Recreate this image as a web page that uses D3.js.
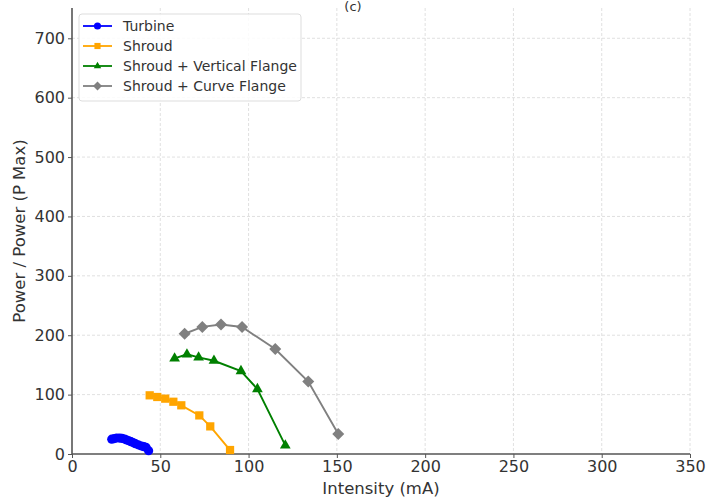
<!DOCTYPE html>
<html><head><meta charset="utf-8">
<script src="https://cdn.jsdelivr.net/npm/d3@7"></script>
<style>body{margin:0;background:#fff;} text{font-family:"DejaVu Sans",sans-serif;}</style>
</head><body>
<svg id="c" width="710" height="500"></svg>
<script>
const seriesNames = ["Turbine","Shroud","Shroud + Vertical Flange","Shroud + Curve Flange"];
const seriesColors = ["#0000ff","#ffa500","#008000","#808080"];
const turbineX = [22.5,24,25.3,27,28.3,29.8,31,32.2,33.4,34.6,35.9,37.5,39.4,40.7,41.9,43.4];
const turbineY = [25,26,27,26.8,26.4,25.2,23.6,22.3,20.8,19.2,17.4,15.5,13.5,12.4,11.2,5.6];
const shroudX = [44,48.3,52.8,57.4,61.9,72.1,78.3,89.5];
const shroudY = [98.8,96,93.2,88,82,65,46.5,6.7];
const vertX = [58.1,65.1,71.7,80.4,95.7,105,120.8];
const vertY = [161,167.8,162.7,157,139.7,109.4,14.6];
const curveX = [63.8,73.8,84.4,96.3,115.1,133.8,150.8];
const curveY = [202.5,214,218,213.8,176.8,122,33.7];
const xTicks = [0,50,100,150,200,250,300,350];
const yTicks = [0,100,200,300,400,500,600,700];

const svg = d3.select("#c");
const L=72, R=690, T=8, B=454;
const x = d3.scaleLinear().domain([0,350]).range([L,R]);
const y = d3.scaleLinear().domain([0,751]).range([B,T]);

// grid
const g = svg.append("g");
g.selectAll(".vx").data(xTicks.slice(1)).join("line")
 .attr("x1",d=>x(d)).attr("x2",d=>x(d)).attr("y1",T).attr("y2",B)
 .attr("stroke","#d8d8d8").attr("stroke-dasharray","3,2").attr("stroke-width",0.8);
g.selectAll(".hy").data(yTicks.slice(1)).join("line")
 .attr("x1",L).attr("x2",R).attr("y1",d=>y(d)).attr("y2",d=>y(d))
 .attr("stroke","#d8d8d8").attr("stroke-dasharray","3,2").attr("stroke-width",0.8);

// axes
const xa = svg.append("g").attr("transform",`translate(0,${B})`)
 .call(d3.axisBottom(x).tickValues(xTicks).tickSize(4).tickPadding(3));
const ya = svg.append("g").attr("transform",`translate(${L},0)`)
 .call(d3.axisLeft(y).tickValues(yTicks).tickSize(4).tickPadding(3));
[xa,ya].forEach(a=>{
  a.select(".domain").attr("stroke","#555").attr("stroke-width",1.6);
  a.selectAll(".tick line").attr("stroke","#555").attr("stroke-width",1);
  a.selectAll(".tick text").attr("fill","#333").style("font-size","16px").style("font-family","DejaVu Sans");
});
ya.select(".domain").attr("d",`M0,${B}V${T}`);
xa.select(".domain").attr("d",`M${L},0H${R}`);

svg.append("text").attr("x",381).attr("y",494).attr("text-anchor","middle")
 .attr("fill","#333").style("font-size","16.5px").text("Intensity (mA)");
svg.append("text").attr("transform",`translate(25,${(T+B)/2}) rotate(-90)`).attr("text-anchor","middle")
 .attr("fill","#333").style("font-size","16.5px").text("Power / Power (P Max)");
svg.append("text").attr("x",353).attr("y",11).attr("text-anchor","middle")
 .attr("fill","#333").style("font-size","13px").text("(c)");

const data = [
  turbineX.map((v,i)=>[v,turbineY[i]]),
  shroudX.map((v,i)=>[v,shroudY[i]]),
  vertX.map((v,i)=>[v,vertY[i]]),
  curveX.map((v,i)=>[v,curveY[i]])
];
const symbols = [d3.symbolCircle,d3.symbolSquare,d3.symbolTriangle,d3.symbolSquare];
const rot = ["","","", " rotate(45)"];
const sizes = [66,68,50,72];
const line = d3.line().x(d=>x(d[0])).y(d=>y(d[1]));
data.forEach((s,i)=>{
  svg.append("path").attr("d",line(s)).attr("fill","none").attr("stroke",seriesColors[i]).attr("stroke-width",1.9);
  svg.append("g").selectAll("path").data(s).join("path")
   .attr("transform",d=>`translate(${x(d[0])},${y(d[1])})${rot[i]}`)
   .attr("d",d3.symbol().type(symbols[i]).size(sizes[i])).attr("fill",seriesColors[i]);
});

// legend
const lg = svg.append("g");
lg.append("rect").attr("x",79).attr("y",14).attr("width",222).attr("height",87).attr("rx",3)
 .attr("fill","#fff").attr("fill-opacity",0.85).attr("stroke","#ddd");
seriesNames.forEach((n,i)=>{
  const yy = 26+i*20;
  lg.append("line").attr("x1",83).attr("x2",112).attr("y1",yy).attr("y2",yy).attr("stroke",seriesColors[i]).attr("stroke-width",1.8);
  lg.append("path").attr("transform",`translate(97.5,${yy})${rot[i]}`)
   .attr("d",d3.symbol().type(symbols[i]).size([40,38,24,40][i])).attr("fill",seriesColors[i]);
  lg.append("text").attr("x",123).attr("y",yy+5).attr("fill","#333").style("font-size","14px").text(n);
});
</script>
</body></html>
